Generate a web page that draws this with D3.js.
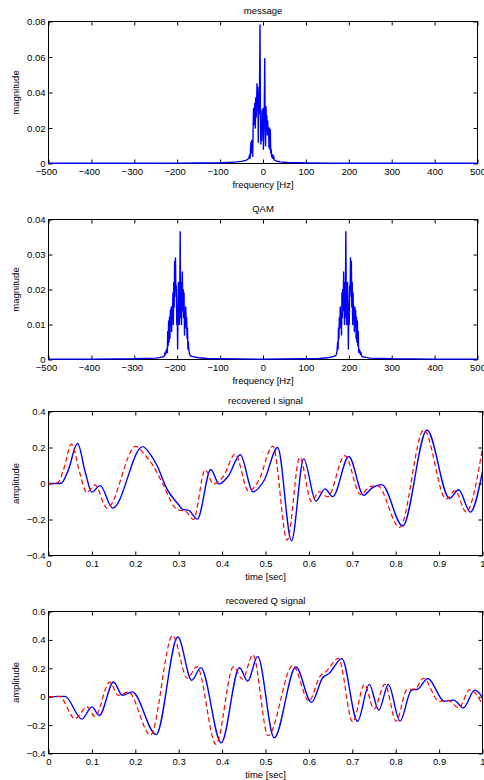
<!DOCTYPE html>
<html><head><meta charset="utf-8">
<script src="https://cdn.jsdelivr.net/npm/d3@7"></script>
<style>
html,body{margin:0;padding:0;background:#fff;}
svg{display:block;}
text{font-family:"Liberation Sans",Arial,Helvetica,sans-serif;font-size:9.5px;fill:#000;}
</style></head><body>
<svg id="c" width="484" height="780"></svg>
<script>
// ---------- DATA ----------
// message spectrum: [frequency Hz, magnitude]
const msgSpectrum = [
 [-500,0.0001],[-300,0.00015],[-200,0.0002],[-150,0.0003],[-100,0.0004],[-80,0.0006],[-60,0.0009],[-50,0.0012],[-45,0.0015],[-40,0.0018],[-37,0.0022],[-35,0.0025],[-34,0.0028],
 [-33,0.003],[-32,0.004],[-31,0.005],[-30,0.003],[-29,0.008],[-28,0.012],[-27,0.006],[-26,0.013],[-25,0.009],[-24,0.004],
 [-23,0.02],[-22,0.031],[-21,0.022],[-20,0.03],[-19,0.034],[-18,0.02],[-17,0.037],[-16,0.026],[-15,0.031],[-14,0.045],
 [-13,0.03],[-12,0.043],[-11,0.012],[-10,0.04],[-9,0.028],[-8,0.045],[-7,0.078],[-6,0.03],[-5,0.011],[-4,0.02],[-3,0.013],
 [-2,0.03],[-1,0.022],[0,0.031],[1,0.008],[2,0.025],[3,0.03],[4,0.059],[5,0.02],[6,0.01],[7,0.032],[8,0.02],[9,0.027],
 [10,0.016],[11,0.024],[12,0.017],[13,0.02],[14,0.009],[15,0.02],[16,0.008],[17,0.019],[18,0.006],[19,0.008],[20,0.004],
 [21,0.004],[22,0.003],[23,0.005],[24,0.003],[25,0.004],[26,0.002],[27,0.002],[28,0.0018],[29,0.0016],
 [31,0.0014],[34,0.0012],[37,0.0011],[40,0.0009],[45,0.0008],[50,0.0007],[60,0.0005],[80,0.0004],[100,0.0003],[150,0.0002],[200,0.00015],[300,0.0001],[500,0.0001]
];
// QAM spectrum: [frequency Hz, magnitude]
const qamSpectrum = [
 [-500,0.0001],[-400,0.0001],[-300,0.0002],[-250,0.0004],[-240,0.0006],[-232,0.0008],[-230,0.001],[-228,0.002],[-227,0.0015],[-226,0.0025],
 [-225,0.002],[-224,0.003],[-223,0.002],[-222,0.008],[-221,0.004],[-220,0.011],[-219,0.005],[-218,0.012],[-217,0.006],[-216,0.014],
 [-215,0.011],[-214,0.015],[-213,0.008],[-212,0.015],[-211,0.013],[-210,0.019],[-209,0.01],[-208,0.022],[-207,0.015],[-206,0.028],
 [-205,0.02],[-204,0.029],[-203,0.018],[-202,0.021],[-201,0.01],[-200,0.014],[-199,0.003],[-198,0.016],[-197,0.022],[-196,0.016],
 [-195,0.01],[-194,0.02],[-193,0.0365],[-192,0.012],[-191,0.022],[-190,0.01],[-189,0.018],[-188,0.025],[-187,0.014],[-186,0.02],
 [-185,0.012],[-184,0.019],[-183,0.007],[-182,0.013],[-181,0.011],[-180,0.015],[-179,0.009],[-178,0.012],[-177,0.006],[-176,0.009],
 [-175,0.003],[-174,0.005],[-173,0.003],[-172,0.002],[-171,0.0015],[-170,0.0012],[-168,0.001],[-165,0.0009],[-160,0.0007],
 [-150,0.0005],[-130,0.0003],[-100,0.0002],[0,0.0001],[100,0.0002],[130,0.0003],[150,0.0005],
 [160,0.0007],[165,0.0009],[168,0.001],[170,0.0012],[171,0.0015],[172,0.002],[173,0.003],[174,0.005],[175,0.003],[176,0.009],
 [177,0.006],[178,0.012],[179,0.009],[180,0.015],[181,0.011],[182,0.013],[183,0.007],[184,0.019],[185,0.012],[186,0.02],
 [187,0.014],[188,0.025],[189,0.018],[190,0.01],[191,0.022],[192,0.012],[193,0.0365],[194,0.02],[195,0.01],[196,0.016],
 [197,0.022],[198,0.016],[199,0.003],[200,0.014],[201,0.01],[202,0.021],[203,0.018],[204,0.029],[205,0.02],[206,0.028],
 [207,0.015],[208,0.022],[209,0.01],[210,0.019],[211,0.013],[212,0.015],[213,0.008],[214,0.015],[215,0.011],[216,0.014],
 [217,0.006],[218,0.012],[219,0.005],[220,0.011],[221,0.004],[222,0.008],[223,0.002],[224,0.003],[225,0.002],[226,0.0025],
 [227,0.0015],[228,0.002],[230,0.001],[232,0.0008],[240,0.0006],[250,0.0004],[300,0.0002],[400,0.0001],[500,0.0001]
];
// recovered I signal: [time s, amplitude]
const iRecovered = [
 [0,0],[0.02,0],[0.03,0.003],[0.045,0.07],[0.067,0.222],[0.085,0.06],[0.1,-0.048],[0.119,-0.012],[0.148,-0.137],
 [0.217,0.205],[0.235,0.16],[0.25,0.1],[0.272,-0.026],[0.3,-0.118],[0.31,-0.145],[0.322,-0.148],[0.343,-0.198],
 [0.374,0.078],[0.393,-0.002],[0.414,0.04],[0.442,0.16],[0.471,-0.046],[0.497,0.018],[0.528,0.2],[0.56,-0.318],
 [0.588,0.137],[0.616,-0.098],[0.637,-0.03],[0.655,-0.073],[0.692,0.15],[0.726,-0.065],[0.746,-0.024],[0.768,-0.006],
 [0.816,-0.236],[0.872,0.297],[0.924,-0.083],[0.945,-0.035],[0.972,-0.159],[1.0,0.067]
];
const iOriginal = [
 [0,0],[0.012,0],[0.022,0.005],[0.035,0.08],[0.053,0.219],[0.072,0.06],[0.088,-0.05],[0.107,-0.008],[0.135,-0.138],
 [0.201,0.206],[0.22,0.165],[0.238,0.11],[0.265,-0.01],[0.29,-0.13],[0.3,-0.148],[0.315,-0.152],[0.334,-0.2],
 [0.361,0.075],[0.38,-0.002],[0.403,0.04],[0.43,0.163],[0.461,-0.042],[0.484,0.015],[0.517,0.208],[0.55,-0.315],
 [0.579,0.145],[0.606,-0.1],[0.624,-0.045],[0.643,-0.074],[0.683,0.155],[0.719,-0.062],[0.74,-0.018],[0.758,-0.012],
 [0.809,-0.244],[0.865,0.298],[0.916,-0.086],[0.937,-0.04],[0.962,-0.158],[1.0,0.197]
];
// recovered Q signal: [time s, amplitude]
const qRecovered = [
 [0,0],[0.038,0.002],[0.077,-0.158],[0.1,-0.072],[0.117,-0.132],[0.15,0.104],[0.17,0.01],[0.193,0.034],[0.248,-0.267],
 [0.298,0.42],[0.33,0.115],[0.351,0.205],[0.398,-0.325],[0.44,0.204],[0.459,0.11],[0.482,0.284],[0.52,-0.29],
 [0.57,0.209],[0.606,-0.04],[0.632,0.135],[0.647,0.165],[0.676,0.268],[0.712,-0.173],[0.739,0.087],[0.761,-0.095],
 [0.783,0.086],[0.81,-0.172],[0.836,0.045],[0.851,0.054],[0.874,0.128],[0.912,-0.032],[0.934,-0.024],[0.956,-0.079],
 [0.982,0.046],[1.0,-0.002]
];
const qOriginal = [
 [0,0],[0.025,0.002],[0.061,-0.155],[0.089,-0.072],[0.107,-0.14],[0.141,0.102],[0.161,0.01],[0.184,0.033],[0.235,-0.27],
 [0.286,0.43],[0.32,0.13],[0.342,0.212],[0.386,-0.335],[0.426,0.21],[0.447,0.125],[0.471,0.296],[0.506,-0.275],
 [0.563,0.22],[0.6,-0.03],[0.626,0.145],[0.64,0.178],[0.668,0.27],[0.701,-0.178],[0.728,0.087],[0.75,-0.087],
 [0.775,0.088],[0.801,-0.173],[0.826,0.05],[0.845,0.055],[0.864,0.13],[0.9,-0.033],[0.921,-0.026],[0.945,-0.078],
 [0.971,0.05],[1.0,-0.055]
];
// ticks
const freqTicks = [-500,-400,-300,-200,-100,0,100,200,300,400,500];
const freqTickLabels = ["\u2212500","\u2212400","\u2212300","\u2212200","\u2212100","0","100","200","300","400","500"];
const timeTicks = [0,0.1,0.2,0.3,0.4,0.5,0.6,0.7,0.8,0.9,1];
const timeTickLabels = ["0","0.1","0.2","0.3","0.4","0.5","0.6","0.7","0.8","0.9","1"];
const msgTicks = [0,0.02,0.04,0.06,0.08];
const msgTickLabels = ["0","0.02","0.04","0.06","0.08"];
const qamTicks = [0,0.01,0.02,0.03,0.04];
const qamTickLabels = ["0","0.01","0.02","0.03","0.04"];
const iTicks = [-0.4,-0.2,0,0.2,0.4];
const iTickLabels = ["\u22120.4","\u22120.2","0","0.2","0.4"];
const qTicks = [-0.4,-0.2,0,0.2,0.4,0.6];
const qTickLabels = ["\u22120.4","\u22120.2","0","0.2","0.4","0.6"];

// ---------- DRAW ----------
const svg = d3.select("#c");
let clipN = 0;
function panel(p){
  const x = d3.scaleLinear().domain(p.xd).range([p.x0,p.x1]);
  const y = d3.scaleLinear().domain(p.yd).range([p.y1,p.y0]);
  const g = svg.append("g");
  const cid = "clip"+(clipN++);
  g.append("clipPath").attr("id",cid).append("rect")
    .attr("x",p.x0).attr("y",p.y0-1).attr("width",p.x1-p.x0).attr("height",p.y1-p.y0+2);
  g.append("rect").attr("x",p.x0).attr("y",p.y0).attr("width",p.x1-p.x0).attr("height",p.y1-p.y0)
    .attr("fill","none").attr("stroke","#000").attr("stroke-width",1);
  const fix = sel => { sel.select(".domain").remove(); sel.attr("font-size",null).attr("font-family",null);
    sel.selectAll(".tick line").attr("stroke","#000"); sel.selectAll(".tick text").attr("fill","#000"); };
  g.append("g").attr("transform",`translate(0,${p.y1})`)
    .call(d3.axisBottom(x).tickValues(p.xt).tickFormat((d,i)=>p.xl[i]).tickSize(-4).tickSizeOuter(0).tickPadding(4.8)).call(fix)
    .selectAll(".tick text").attr("dx",d=>d<0?-2.5:0);
  g.append("g").attr("transform",`translate(0,${p.y0})`)
    .call(d3.axisTop(x).tickValues(p.xt).tickFormat("").tickSize(-4).tickSizeOuter(0)).call(fix);
  g.append("g").attr("transform",`translate(${p.x0},0)`)
    .call(d3.axisLeft(y).tickValues(p.yt).tickFormat((d,i)=>p.yl[i]).tickSize(-4).tickSizeOuter(0).tickPadding(3)).call(fix);
  g.append("g").attr("transform",`translate(${p.x1},0)`)
    .call(d3.axisRight(y).tickValues(p.yt).tickFormat("").tickSize(-4).tickSizeOuter(0)).call(fix);
  p.series.forEach(s=>{
    g.append("path").datum(s.data).attr("clip-path",`url(#${cid})`)
      .attr("fill","none").attr("stroke",s.color).attr("stroke-width",s.w)
      .attr("stroke-dasharray",s.dash||null).attr("stroke-linejoin","round")
      .attr("d",d3.line().x(d=>x(d[0])).y(d=>y(d[1])).curve(s.curve));
  });
  const cx = (p.x0+p.x1)/2, cy=(p.y0+p.y1)/2;
  g.append("text").attr("x",cx).attr("y",p.y0-7.5).attr("text-anchor","middle").text(p.title);
  g.append("text").attr("x",cx).attr("y",p.y1+24).attr("text-anchor","middle").text(p.xlabel);
  g.append("text").attr("transform",`translate(19,${cy}) rotate(-90)`).attr("text-anchor","middle").text(p.ylabel);
}

panel({x0:48.5,x1:477.5,y0:21.5,y1:163.5,xd:[-500,500],yd:[0,0.08],xt:freqTicks,xl:freqTickLabels,yt:msgTicks,yl:msgTickLabels,
  title:"message",xlabel:"frequency [Hz]",ylabel:"magnitude",
  series:[{data:msgSpectrum,color:"#0000ff",w:1.4,curve:d3.curveLinear}]});
panel({x0:48.5,x1:477.5,y0:219.5,y1:359.5,xd:[-500,500],yd:[0,0.04],xt:freqTicks,xl:freqTickLabels,yt:qamTicks,yl:qamTickLabels,
  title:"QAM",xlabel:"frequency [Hz]",ylabel:"magnitude",
  series:[{data:qamSpectrum,color:"#0000ff",w:1.4,curve:d3.curveLinear}]});
panel({x0:48.5,x1:482.5,y0:411.5,y1:555.5,xd:[0,1],yd:[-0.4,0.4],xt:timeTicks,xl:timeTickLabels,yt:iTicks,yl:iTickLabels,
  title:"recovered I signal",xlabel:"time [sec]",ylabel:"amplitude",
  series:[{data:iRecovered,color:"#0000ff",w:1.4,curve:d3.curveMonotoneX},
          {data:iOriginal,color:"#ff0000",w:1.2,dash:"5,3",curve:d3.curveMonotoneX}]});
panel({x0:48.5,x1:482.5,y0:611.5,y1:753.5,xd:[0,1],yd:[-0.4,0.6],xt:timeTicks,xl:timeTickLabels,yt:qTicks,yl:qTickLabels,
  title:"recovered Q signal",xlabel:"time [sec]",ylabel:"amplitude",
  series:[{data:qRecovered,color:"#0000ff",w:1.4,curve:d3.curveMonotoneX},
          {data:qOriginal,color:"#ff0000",w:1.2,dash:"5,3",curve:d3.curveMonotoneX}]});
</script></body></html>
